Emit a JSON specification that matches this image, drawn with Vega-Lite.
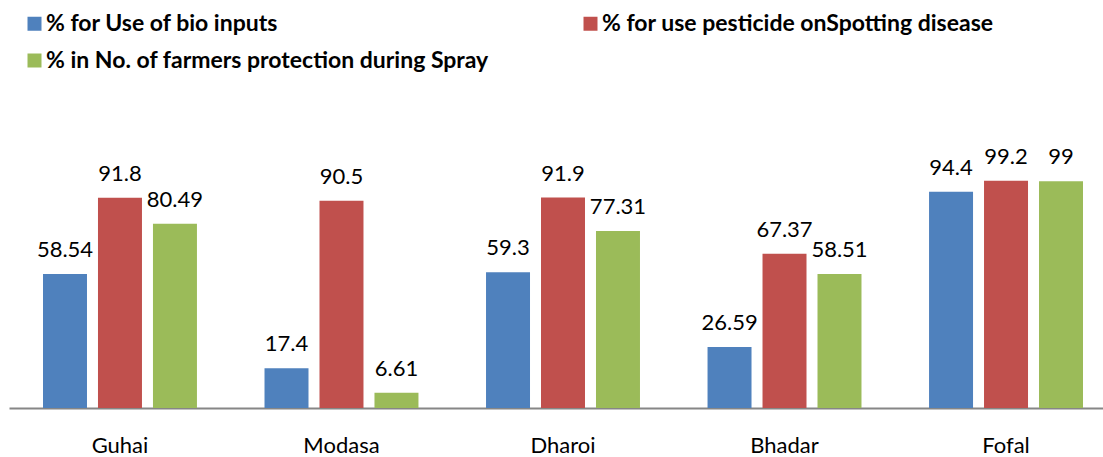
{
  "$schema": "https://vega.github.io/schema/vega-lite/v6.json",
  "autosize": {"type": "none"},
  "padding": {"left": 9, "top": 179, "right": 0, "bottom": 49},
  "width": 1094,
  "height": 229,
  "background": "white",
  "config": {
    "view": {"stroke": null},
    "font": "Lato"
  },
  "data": {
    "values": [
      {"site": "Guhai", "series": "% for Use of bio inputs", "value": 58.54},
      {"site": "Guhai", "series": "% for use pesticide onSpotting disease", "value": 91.8},
      {"site": "Guhai", "series": "% in No. of farmers protection during Spray", "value": 80.49},
      {"site": "Modasa", "series": "% for Use of bio inputs", "value": 17.4},
      {"site": "Modasa", "series": "% for use pesticide onSpotting disease", "value": 90.5},
      {"site": "Modasa", "series": "% in No. of farmers protection during Spray", "value": 6.61},
      {"site": "Dharoi", "series": "% for Use of bio inputs", "value": 59.3},
      {"site": "Dharoi", "series": "% for use pesticide onSpotting disease", "value": 91.9},
      {"site": "Dharoi", "series": "% in No. of farmers protection during Spray", "value": 77.31},
      {"site": "Bhadar", "series": "% for Use of bio inputs", "value": 26.59},
      {"site": "Bhadar", "series": "% for use pesticide onSpotting disease", "value": 67.37},
      {"site": "Bhadar", "series": "% in No. of farmers protection during Spray", "value": 58.51},
      {"site": "Fofal", "series": "% for Use of bio inputs", "value": 94.4},
      {"site": "Fofal", "series": "% for use pesticide onSpotting disease", "value": 99.2},
      {"site": "Fofal", "series": "% in No. of farmers protection during Spray", "value": 99}
    ]
  },
  "encoding": {
    "x": {
      "field": "site", "type": "nominal", "sort": null,
      "scale": {"range": [0, 1108], "paddingInner": 0.305, "paddingOuter": 0.1535},
      "axis": {
        "title": null, "labelAngle": 0, "ticks": false,
        "domainColor": "#868686", "domainWidth": 2,
        "labelFontSize": 22, "labelColor": "#000000", "labelPadding": 27,
        "labelFont": "Lato"
      }
    },
    "xOffset": {
      "field": "series", "type": "nominal", "sort": null,
      "scale": {"paddingInner": 0.2, "paddingOuter": 0}
    },
    "y": {
      "field": "value", "type": "quantitative",
      "scale": {"domain": [0, 100], "nice": false},
      "axis": null
    }
  },
  "layer": [
    {
      "mark": {"type": "bar"},
      "encoding": {
        "color": {
          "field": "series", "type": "nominal", "sort": null,
          "scale": {
            "domain": ["% for Use of bio inputs", "% for use pesticide onSpotting disease", "% in No. of farmers protection during Spray"],
            "range": ["#4F81BD", "#C0504D", "#9BBB59"]
          },
          "legend": {
            "title": null, "orient": "none", "legendX": 14, "legendY": -167,
            "direction": "horizontal", "columns": 2, "columnPadding": 90, "rowPadding": 13,
            "symbolType": "square", "symbolSize": 196, "symbolStrokeWidth": 0,
            "labelFontSize": 23, "labelFontWeight": "bold", "labelColor": "#000000",
            "labelFont": "Lato", "labelOffset": 0, "labelLimit": 600
          }
        }
      }
    },
    {
      "mark": {"type": "text", "baseline": "alphabetic", "dy": -17, "fontSize": 22, "color": "#000000", "font": "Lato"},
      "encoding": {
        "text": {"field": "value", "type": "nominal"}
      }
    }
  ]
}
